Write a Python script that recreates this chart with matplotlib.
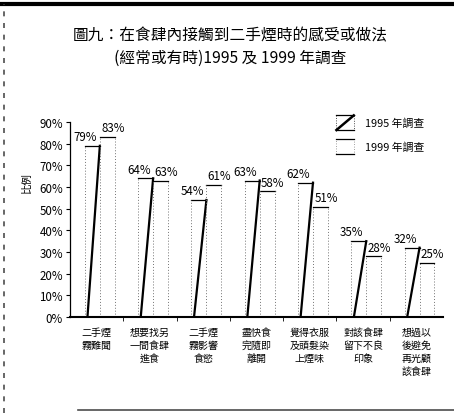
import matplotlib
matplotlib.use('Agg')
import matplotlib.pyplot as plt
from matplotlib.legend_handler import HandlerBase
from matplotlib.patches import Rectangle, Patch
from matplotlib.lines import Line2D
import numpy as np

plt.rcParams['font.family'] = ['Noto Sans CJK TC', 'DejaVu Sans']

categories = ['二手煙\n霧難聞', '想要找另\n一間食肆\n進食', '二手煙\n霧影響\n食慾',
              '盡快食\n完隨即\n離開', '覺得衣服\n及頭髮染\n上煙味', '對該食肆\n留下不良\n印象',
              '想過以\n後避免\n再光顧\n該食肆']
pct_1995 = [79, 64, 54, 63, 62, 35, 32]
pct_1999 = [83, 63, 61, 58, 51, 28, 25]
years = ['1995 年調查', '1999 年調查']
yticks = list(range(0, 91, 10))


class Handler1995(HandlerBase):
    def create_artists(self, legend, orig_handle, xdescent, ydescent, width, height, fontsize, trans):
        x0, y0 = -xdescent, -ydescent
        rect = Rectangle((x0, y0), width, height, fill=False, ec='0.3', lw=0.7, ls=(0, (1, 1.5)), transform=trans)
        top = Line2D([x0, x0 + width], [y0 + height] * 2, color='black', lw=0.9, transform=trans)
        bot = Line2D([x0, x0 + width], [y0] * 2, color='black', lw=0.9, transform=trans)
        diag = Line2D([x0, x0 + width], [y0, y0 + height], color='black', lw=1.8, transform=trans)
        return [rect, top, bot, diag]


class Handler1999(HandlerBase):
    def create_artists(self, legend, orig_handle, xdescent, ydescent, width, height, fontsize, trans):
        x0, y0 = -xdescent, -ydescent
        rect = Rectangle((x0, y0), width, height, fill=False, ec='0.5', lw=0.6, ls=(0, (1, 2)), transform=trans)
        top = Line2D([x0, x0 + width], [y0 + height] * 2, color='black', lw=0.9, transform=trans)
        bot = Line2D([x0, x0 + width], [y0] * 2, color='black', lw=0.9, transform=trans)
        return [rect, top, bot]


fig = plt.figure(figsize=(4.54, 4.14), dpi=100)
ax = fig.add_axes([70 / 454, 96 / 414, 373 / 454, 195 / 414])

x = np.arange(len(categories))
w = 0.28
x95 = x - 0.08
x99 = x + 0.2

ax.bar(x95, pct_1995, w, color='white', edgecolor='none')
ax.bar(x99, pct_1999, w, color='white', edgecolor='none')

dot = (0, (1, 2))
for xi, v in zip(x95, pct_1995):
    l, r = xi - w / 2, xi + w / 2
    ax.plot([l, r], [v, v], color='black', lw=0.9)
    ax.plot([l, l], [0, v], color='0.45', lw=0.7, ls=dot)
    ax.plot([l + 0.17 * w, r], [0, v], color='black', lw=1.6)
    ax.annotate(f'{v}%', (xi, v), xytext=(-5, 2), textcoords='offset points',
                ha='center', va='bottom', fontsize=8.3)

for xi, v in zip(x99, pct_1999):
    l, r = xi - w / 2, xi + w / 2
    ax.plot([l, r], [v, v], color='black', lw=0.9)
    ax.plot([l, l], [0, v], color='0.45', lw=0.7, ls=dot)
    ax.plot([r, r], [0, v], color='0.45', lw=0.7, ls=dot)
    ax.annotate(f'{v}%', (xi, v), xytext=(4, 2), textcoords='offset points',
                ha='center', va='bottom', fontsize=8.3)

ax.set_xlim(-0.5, len(categories) - 0.5)
ax.set_ylim(0, 90)
ax.set_yticks(yticks)
ax.set_yticklabels([f'{v}%' for v in yticks], fontsize=8.3)
ax.set_xticks(x)
ax.set_xticklabels(categories, fontsize=7.2, linespacing=1.4, va='top')
ax.set_xticks(x[:-1] + 0.5, minor=True)
ax.tick_params(axis='x', which='major', length=0, pad=7)
ax.tick_params(axis='x', which='minor', length=3, direction='out')
ax.tick_params(axis='y', length=3, direction='out', pad=2)
for s in ['top', 'right']:
    ax.spines[s].set_visible(False)
ax.spines['left'].set_linewidth(0.9)
ax.spines['bottom'].set_linewidth(1.5)

fig.text(27 / 454, 1 - 183 / 414, '比例', rotation=90, ha='center', va='center', fontsize=7.5)

fig.text(230 / 454, 1 - 36 / 414, '圖九：在食肆內接觸到二手煙時的感受或做法',
         ha='center', va='center', fontsize=11.3)
fig.text(230 / 454, 1 - 58 / 414, '(經常或有時)1995 及 1999 年調查',
         ha='center', va='center', fontsize=11.3)

handles = [Patch(), Patch()]
fig.legend(handles, years, loc='upper left', bbox_to_anchor=(331 / 454, 1 - 111 / 414),
           frameon=False, borderpad=0, fontsize=7.8, handlelength=1.6, handleheight=1.7,
           handletextpad=1.0, labelspacing=0.85,
           handler_map={handles[0]: Handler1995(), handles[1]: Handler1999()})

# scanned page border
fig.add_artist(Line2D([0, 1], [1 - 5 / 414] * 2, color='black', lw=3, transform=fig.transFigure))
fig.add_artist(Line2D([4 / 454] * 2, [0, 1 - 5 / 414], color='0.3', lw=1.2, ls=(0, (3, 4)),
                      transform=fig.transFigure))
fig.add_artist(Line2D([78 / 454, 1], [3 / 414] * 2, color='0.3', lw=1.2, transform=fig.transFigure))

fig.savefig('out.png', dpi=100)
